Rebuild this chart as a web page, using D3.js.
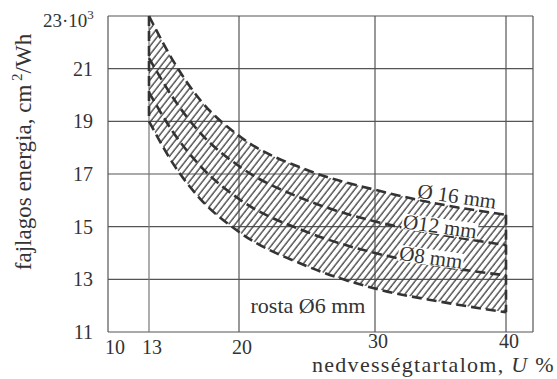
<!DOCTYPE html>
<html>
<head>
<meta charset="utf-8">
<script src="https://cdn.jsdelivr.net/npm/d3@7"></script>
<style>
  body { margin: 0; background: #fff; }
  text { font-family: "Liberation Serif", "Times New Roman", serif; fill: #333; }
</style>
</head>
<body>
<div id="chart"></div>
<script>
var WIDTH  = 557;
var HEIGHT = 379;

// nedvességtartalom (U %) -- a görbékről leolvasott pontok
var moisture = [13, 15, 17, 20, 25, 30, 35, 40];
var sieve16 = [23.0, 21.2, 19.8, 18.45, 17.15, 16.4, 15.85, 15.45];
var sieve12 = [21.4, 19.8, 18.55, 17.3, 16.0, 15.2, 14.7, 14.3];
var sieve8  = [20.1, 18.5, 17.3, 16.05, 14.8, 14.0, 13.5, 13.15];
var sieve6  = [19.0, 17.3, 16.05, 14.8, 13.5, 12.65, 12.15, 11.75];

var xGrid = [10, 13, 20, 30, 40, 42];
var xTicks = [10, 13, 20, 30, 40];
var yTicks = [11, 13, 15, 17, 19, 21];
var yGrid = [11, 13, 15, 17, 19, 21, 23];

var curveLabels = ['Ø 16 mm', 'Ø12 mm', 'Ø8 mm'];

// a rajz tengelyei nem teljesen egyenletesek, ezért darabolt lineáris skála
var x = d3.scaleLinear()
          .domain([10, 13, 20, 30, 40, 42])
          .range([108, 149, 239, 375, 506, 533]);
var y = d3.scaleLinear().domain([11, 23]).range([332, 16]);

var svg = d3.select('#chart').append('svg')
            .attr('width', WIDTH)
            .attr('height', HEIGHT);

svg.append('rect').attr('width', WIDTH).attr('height', HEIGHT).attr('fill', '#fff');

// sraffozás
var pat = svg.append('defs').append('pattern')
             .attr('id', 'hatch')
             .attr('patternUnits', 'userSpaceOnUse')
             .attr('width', 5.2).attr('height', 10)
             .attr('patternTransform', 'rotate(38)');
pat.append('line')
   .attr('x1', 1).attr('y1', 0).attr('x2', 1).attr('y2', 10)
   .attr('stroke', '#444').attr('stroke-width', 1.35);

// rács
svg.append('g').selectAll('line').data(yGrid).enter().append('line')
   .attr('x1', x(10)).attr('x2', x(42))
   .attr('y1', d => y(d)).attr('y2', d => y(d))
   .attr('stroke', '#555').attr('stroke-width', 1.2);
svg.append('g').selectAll('line').data(xGrid).enter().append('line')
   .attr('x1', d => x(d)).attr('x2', d => x(d))
   .attr('y1', y(11)).attr('y2', y(23))
   .attr('stroke', d => d === 13 ? '#777' : '#555')
   .attr('stroke-width', 1.2);

var pts = (arr) => moisture.map((m, i) => [m, arr[i]]);

var area = d3.area()
             .x(d => x(d[0]))
             .y0((d, i) => y(sieve6[i]))
             .y1(d => y(d[1]))
             .curve(d3.curveMonotoneX);

svg.append('path')
   .attr('d', area(pts(sieve16)))
   .attr('fill', 'url(#hatch)');

var line = d3.line()
             .x(d => x(d[0]))
             .y(d => y(d[1]))
             .curve(d3.curveMonotoneX);

var dashed = svg.append('g')
                .attr('fill', 'none')
                .attr('stroke', '#333')
                .attr('stroke-width', 2.6)
                .attr('stroke-dasharray', '10,5');

[sieve16, sieve12, sieve8, sieve6].forEach(s => {
  dashed.append('path').attr('d', line(pts(s)));
});

// oldalsó határok 13 és 40 %-nál
var last = moisture.length - 1;
dashed.append('line')
      .attr('x1', x(13)).attr('x2', x(13))
      .attr('y1', y(sieve16[0])).attr('y2', y(sieve6[0]));
dashed.append('line')
      .attr('x1', x(40)).attr('x2', x(40))
      .attr('y1', y(sieve16[last])).attr('y2', y(sieve6[last]));

// görbe feliratok
var labelPos = [[457, 196], [440, 226], [431, 257]];
curveLabels.forEach((t, i) => {
  var g = svg.append('g')
             .attr('transform', `translate(${labelPos[i][0]},${labelPos[i][1]}) rotate(8)`);
  var bg = g.append('rect').attr('fill', '#fff');
  var txt = g.append('text')
             .attr('text-anchor', 'middle')
             .attr('dy', '0.35em')
             .style('font-size', '21px')
             .text(t);
  var bb = txt.node().getBBox();
  bg.attr('x', bb.x - 1).attr('y', bb.y + 4)
    .attr('width', bb.width + 2).attr('height', bb.height - 8);
});

svg.append('text')
   .attr('x', 308).attr('y', 313)
   .attr('text-anchor', 'middle')
   .style('font-size', '22px')
   .text('rosta Ø6 mm');

// tengelyfeliratok
svg.append('g').selectAll('text').data(xTicks).enter().append('text')
   .attr('x', d => x(d) + (d === 10 ? 7 : 3))
   .attr('y', d => d >= 30 ? 348 : 354)
   .attr('text-anchor', 'middle')
   .style('font-size', '20px')
   .text(d => d);

svg.append('g').selectAll('text').data(yTicks).enter().append('text')
   .attr('x', 93)
   .attr('y', d => y(d))
   .attr('dy', '0.35em')
   .attr('text-anchor', 'end')
   .style('font-size', '20px')
   .text(d => d);

var topLabel = svg.append('text')
                  .attr('x', 43).attr('y', 27)
                  .style('font-size', '19px');
topLabel.append('tspan').text('23·10');
topLabel.append('tspan').attr('dy', -8).style('font-size', '13px').text('3');

var xt = svg.append('text')
            .attr('x', 555).attr('y', 372)
            .attr('text-anchor', 'end')
            .style('font-size', '22px')
            .style('letter-spacing', '1.3px');
xt.append('tspan').text('nedvességtartalom, ');
xt.append('tspan').style('font-style', 'italic').text('U');
xt.append('tspan').text(' %');

var yt = svg.append('text')
            .attr('transform', 'translate(31,152) rotate(-90)')
            .attr('text-anchor', 'middle')
            .style('font-size', '23px');
yt.append('tspan').text('fajlagos energia, cm');
yt.append('tspan').attr('dy', -9).style('font-size', '15px').text(' 2');
yt.append('tspan').attr('dy', 9).text('/Wh');
</script>
</body>
</html>
